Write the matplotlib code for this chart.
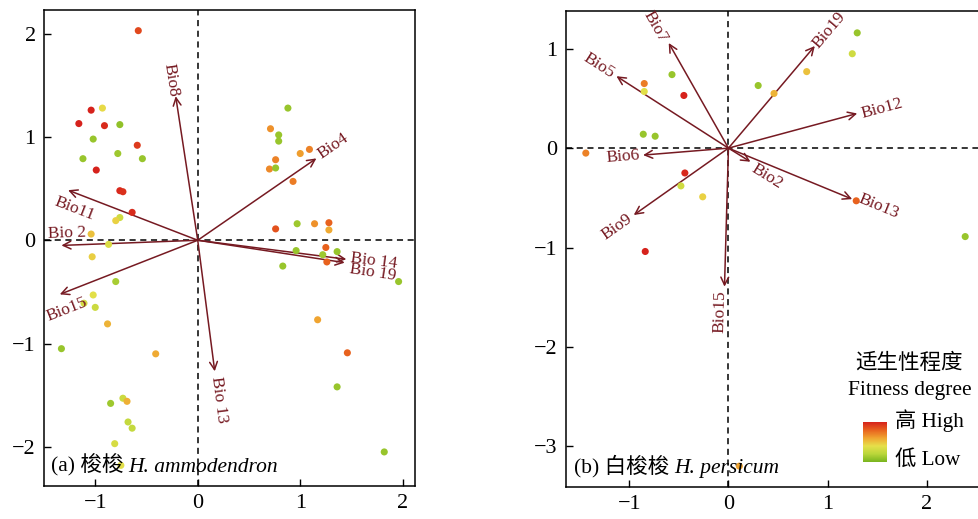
import numpy as np
import matplotlib
matplotlib.use("Agg")
import matplotlib.pyplot as plt
from matplotlib.colors import LinearSegmentedColormap, Normalize
from matplotlib.cm import ScalarMappable

SERIF = ["Liberation Serif", "DejaVu Serif"]
MIXED = ["Liberation Serif", "Noto Sans CJK SC"]
plt.rcParams["font.family"] = SERIF

ARROW_C = "#761a22"
cmap = LinearSegmentedColormap.from_list(
    "fit", ["#78b41e", "#b9d63a", "#e6e04a", "#f0a430", "#e8621e", "#d6221c"])

# (a) H. ammodendron -- sample scores and fitness (0 = low, 1 = high)
a_x = [-0.58, -1.04, -0.93, -1.16, -0.91, -0.76, -1.02, -0.59, -1.12, -0.78,
       -0.54, -0.99, -0.76, -0.73, -0.64, -0.76, -0.80, -1.04, -0.87,
       0.88, 0.71, 0.79, 0.79, 1.09, 1.00, 0.76, 0.70, 0.76, 0.93,
       0.76, 0.97, 1.14, 1.28, 1.28, 1.25, 0.96, 1.22, 1.36, 1.26,
       0.83, 1.96, -0.80, -1.02, -1.11, -1.00, -0.88, 1.17, -1.33, -0.41,
       1.46, 1.36, -0.85, -0.73, -0.69, -0.68, -0.64, -0.81, 1.82, -0.75,
       -1.03]
a_y = [2.03, 1.26, 1.28, 1.13, 1.11, 1.12, 0.98, 0.92, 0.79, 0.84,
       0.79, 0.68, 0.48, 0.47, 0.27, 0.22, 0.19, 0.06, -0.04,
       1.28, 1.08, 1.02, 0.96, 0.88, 0.84, 0.78, 0.69, 0.70, 0.57,
       0.11, 0.16, 0.16, 0.17, 0.10, -0.07, -0.10, -0.14, -0.11, -0.21,
       -0.25, -0.40, -0.40, -0.53, -0.61, -0.65, -0.81, -0.77, -1.05, -1.10,
       -1.09, -1.42, -1.58, -1.53, -1.56, -1.76, -1.82, -1.97, -2.05, -2.18,
       -0.16]
a_fit = [0.88, 1.0, 0.42, 1.0, 0.97, 0.08, 0.1, 0.92, 0.1, 0.12,
         0.1, 1.0, 0.98, 0.95, 0.97, 0.3, 0.45, 0.5, 0.35,
         0.1, 0.66, 0.1, 0.1, 0.7, 0.62, 0.7, 0.68, 0.1, 0.72,
         0.85, 0.12, 0.66, 0.8, 0.58, 0.8, 0.1, 0.12, 0.1, 0.8,
         0.1, 0.1, 0.15, 0.38, 0.32, 0.28, 0.55, 0.6, 0.1, 0.58,
         0.8, 0.1, 0.12, 0.28, 0.56, 0.25, 0.25, 0.33, 0.1, 0.38,
         0.46]

a_vars = ["Bio8", "Bio4", "Bio11", "Bio 2", "Bio15", "Bio 13", "Bio 14", "Bio 19"]
a_tip_x = [-0.215, 1.158, -1.265, -1.33, -1.346, 0.166, 1.45, 1.434]
a_tip_y = [1.395, 0.793, 0.485, -0.05, -0.524, -1.269, -0.184, -0.217]
a_lab_x = [-0.26, 1.32, -1.20, -1.28, -1.28, 0.21, 1.72, 1.71]
a_lab_y = [1.55, 0.91, 0.30, 0.065, -0.67, -1.54, -0.20, -0.31]

# (b) H. persicum
b_x = [1.30, 1.25, 0.79, 0.30, 0.46, -0.57, -0.85, -0.85, -0.45, -0.86,
       -0.74, -1.44, -0.44, -0.48, -0.26, 1.29, 2.39, -0.84, 0.11]
b_y = [1.16, 0.95, 0.77, 0.63, 0.55, 0.74, 0.65, 0.57, 0.53, 0.14,
       0.12, -0.05, -0.25, -0.38, -0.49, -0.53, -0.89, -1.04, -3.20]
b_fit = [0.1, 0.3, 0.5, 0.1, 0.55, 0.1, 0.72, 0.38, 1.0, 0.1,
         0.1, 0.7, 0.98, 0.3, 0.45, 0.8, 0.1, 1.0, 0.6]

b_vars = ["Bio7", "Bio5", "Bio19", "Bio12", "Bio6", "Bio2", "Bio13", "Bio9", "Bio15"]
b_tip_x = [-0.603, -1.131, 0.872, 1.30, -0.862, 0.222, 1.249, -0.956, -0.04]
b_tip_y = [1.058, 0.724, 1.028, 0.349, -0.07, -0.137, -0.513, -0.673, -1.394]
b_lab_x = [-0.74, -1.31, 1.02, 1.545, -1.064, 0.39, 1.512, -1.124, -0.081]
b_lab_y = [1.22, 0.834, 1.186, 0.399, -0.087, -0.288, -0.59, -0.791, -1.645]


def fmt(t):
    return "\u2212%d" % -t if t < 0 else str(t)


def biplot(ax, xs, ys, fit, names, tx, ty, lx, ly, xlim, ylim, xticks, yticks):
    ax.set_xlim(*xlim)
    ax.set_ylim(*ylim)
    ax.axhline(0, color="black", ls=(0, (4, 3)), lw=1.1, zorder=1)
    ax.axvline(0, color="black", ls=(0, (4, 3)), lw=1.1, zorder=1)
    ax.scatter(xs, ys, c=fit, cmap=cmap, vmin=0, vmax=1, s=26,
               edgecolors="none", zorder=3)
    for name, x1, y1, x2, y2 in zip(names, tx, ty, lx, ly):
        ax.annotate("", xy=(x1, y1), xytext=(0, 0),
                    arrowprops=dict(arrowstyle="->", color=ARROW_C, lw=1.1,
                                    mutation_scale=14, shrinkA=0, shrinkB=0),
                    zorder=2)
        # keep labels readable: rotate along the arrow, flipped into (-90, 90]
        p0 = ax.transData.transform((0, 0))
        p1 = ax.transData.transform((x1, y1))
        ang = np.degrees(np.arctan2(p1[1] - p0[1], p1[0] - p0[0]))
        if ang > 90:
            ang -= 180
        elif ang < -90:
            ang += 180
        ax.text(x2, y2, name, color=ARROW_C, fontsize=12.5, rotation=ang,
                rotation_mode="anchor", ha="center", va="center", zorder=4)
    ax.set_xticks(xticks)
    ax.set_yticks(yticks)
    ax.set_xticklabels([fmt(t) for t in xticks])
    ax.set_yticklabels([fmt(t) for t in yticks])
    ax.tick_params(direction="in", length=5, width=1, labelsize=16, pad=6)
    for sp in ax.spines.values():
        sp.set_linewidth(1.1)


fig = plt.figure(figsize=(9.79, 5.19), dpi=100)
ax1 = fig.add_axes([44 / 979, 33 / 519, 371 / 979, 476 / 519])
ax2 = fig.add_axes([566 / 979, 32 / 519, 420 / 979, 476 / 519])

biplot(ax1, a_x, a_y, a_fit, a_vars, a_tip_x, a_tip_y, a_lab_x, a_lab_y,
       (-1.50, 2.12), (-2.38, 2.23), [-1, 0, 1, 2], [-2, -1, 0, 1, 2])
biplot(ax2, b_x, b_y, b_fit, b_vars, b_tip_x, b_tip_y, b_lab_x, b_lab_y,
       (-1.64, 2.60), (-3.41, 1.38), [-1, 0, 1, 2], [-3, -2, -1, 0, 1])

# panel captions: roman + CJK, then italic species name
for ax, head, sp in [(ax1, "(a) 梭梭 ", "H. ammodendron"),
                     (ax2, "(b) 白梭梭 ", "H. persicum")]:
    t = ax.text(0.018, 0.030, head, transform=ax.transAxes, fontsize=15.5,
                family=MIXED, va="baseline", ha="left", zorder=5)
    ax.annotate(sp, xy=(1, 0), xycoords=t, fontsize=15.5, style="italic",
                family=SERIF, va="bottom", ha="left", zorder=5)

# fitness legend
fig.text(909 / 979, 1 - 364 / 519, "适生性程度", family=MIXED, fontsize=15.5,
         ha="center", va="center")
fig.text(910 / 979, 1 - 391 / 519, "Fitness degree", family=SERIF, fontsize=15.5,
         ha="center", va="center")
cax = fig.add_axes([863 / 979, 1 - 462 / 519, 24 / 979, 40 / 519])
cb = fig.colorbar(ScalarMappable(norm=Normalize(0, 1), cmap=cmap), cax=cax)
cb.outline.set_visible(False)
cb.set_ticks([])
fig.text(895 / 979, 1 - 421 / 519, "高 High", family=MIXED, fontsize=15.3,
         ha="left", va="center")
fig.text(895 / 979, 1 - 460 / 519, "低 Low", family=MIXED, fontsize=15.3,
         ha="left", va="center")

fig.savefig("out.png", dpi=100)
